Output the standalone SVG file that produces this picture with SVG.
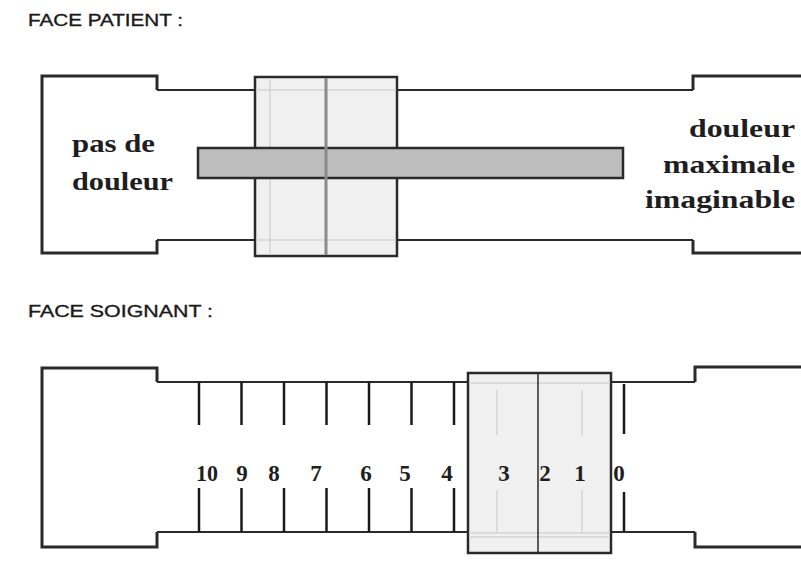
<svg xmlns="http://www.w3.org/2000/svg" width="801" height="561" viewBox="0 0 801 561">
<style>
.title{font-family:"Liberation Sans",Arial,sans-serif;font-size:17px;fill:#1a1a1a;stroke:#1a1a1a;stroke-width:0.35;}
.lbl{font-family:"Liberation Serif","Times New Roman",serif;font-weight:bold;font-size:26px;fill:#1e1e1e;}
.num{font-family:"Liberation Serif","Times New Roman",serif;font-weight:bold;font-size:23px;fill:#1e1e1e;text-anchor:middle;}
.block{fill:none;stroke:#2a2a2a;stroke-width:3;}
.rail{fill:none;stroke:#2a2a2a;stroke-width:2;}
.slider{fill:#f0f0f0;stroke:#2a2a2a;stroke-width:2.5;}
.tick{stroke:#1a1a1a;stroke-width:2.5;}
.faint{stroke:#d4d4d4;stroke-width:1.5;fill:none;}
</style>
<rect width="801" height="561" fill="#fff"/>

<g id="patient">
  <text class="title" x="28" y="26" textLength="155" lengthAdjust="spacingAndGlyphs">FACE PATIENT :</text>
  <g id="patient-ruler">
    <path class="block" d="M157,90 L157,76 L42,76 L42,253 L157,253 L157,240"/>
    <path class="block" d="M693,90 L693,76 L801,76 M693,240 L693,253 L801,253"/>
    <path class="rail" d="M157,90 L693,90 M157,240 L693,240"/>
  </g>
  <g id="patient-slider">
    <rect class="slider" x="255" y="77" width="142" height="179"/>
    <path class="faint" d="M256,90 L396,90 M256,240 L396,240 M270,78 L270,255"/>
  </g>
  <g id="patient-bar">
    <rect x="198" y="148" width="425" height="30" fill="#bdbdbd" stroke="#2a2a2a" stroke-width="2.5"/>
  </g>
  <line x1="326" y1="78" x2="326" y2="255" stroke="#8a8a8a" stroke-width="3"/>
  <g id="patient-labels">
    <text class="lbl" x="72" y="152" textLength="83" lengthAdjust="spacingAndGlyphs">pas de</text>
    <text class="lbl" x="72" y="190" textLength="101" lengthAdjust="spacingAndGlyphs">douleur</text>
    <text class="lbl" x="689" y="137" textLength="106" lengthAdjust="spacingAndGlyphs">douleur</text>
    <text class="lbl" x="663" y="173" textLength="132" lengthAdjust="spacingAndGlyphs">maximale</text>
    <text class="lbl" x="645" y="208" textLength="150" lengthAdjust="spacingAndGlyphs">imaginable</text>
  </g>
</g>

<g id="soignant">
  <text class="title" x="28" y="317" textLength="185" lengthAdjust="spacingAndGlyphs">FACE SOIGNANT :</text>
  <g id="soignant-ruler">
    <path class="block" d="M157,382 L157,368 L42,368 L42,547 L157,547 L157,532"/>
    <path class="block" d="M695,382 L695,367 L801,367 M695,532 L695,547 L801,547"/>
    <path class="rail" d="M157,382 L695,382 M157,532 L695,532"/>
  </g>
  <g id="ticks">
    <path class="tick" d="M199,382 V425 M241.5,382 V425 M284,382 V425 M326.5,382 V425 M369,382 V425 M411.5,382 V425 M454,382 V425 M624,384 V434
      M199,488 V532 M241.5,488 V532 M284,488 V532 M326.5,488 V532 M369,488 V532 M411.5,488 V532 M454,488 V532 M624,492 V532"/>
  </g>
  <g id="soignant-slider">
    <rect class="slider" x="468" y="373" width="143" height="180"/>
    <path class="faint" d="M469,383 L610,383 M469,533 L610,533 M469,537 L610,537 M497,390 V435 M582,390 V435 M497,490 V532 M582,490 V532"/>
    <line x1="538" y1="374" x2="538" y2="552" stroke="#2a2a2a" stroke-width="1.5"/>
  </g>
  <g id="numbers">
    <text class="num" x="207" y="481" textLength="22" lengthAdjust="spacingAndGlyphs">10</text>
    <text class="num" x="242" y="481">9</text>
    <text class="num" x="274" y="481">8</text>
    <text class="num" x="316" y="481">7</text>
    <text class="num" x="366" y="481">6</text>
    <text class="num" x="405" y="481">5</text>
    <text class="num" x="447" y="481">4</text>
    <text class="num" x="504" y="481">3</text>
    <text class="num" x="545" y="481">2</text>
    <text class="num" x="580" y="481">1</text>
    <text class="num" x="619" y="481">0</text>
  </g>
</g>
<g id="connectors"/>
</svg>
